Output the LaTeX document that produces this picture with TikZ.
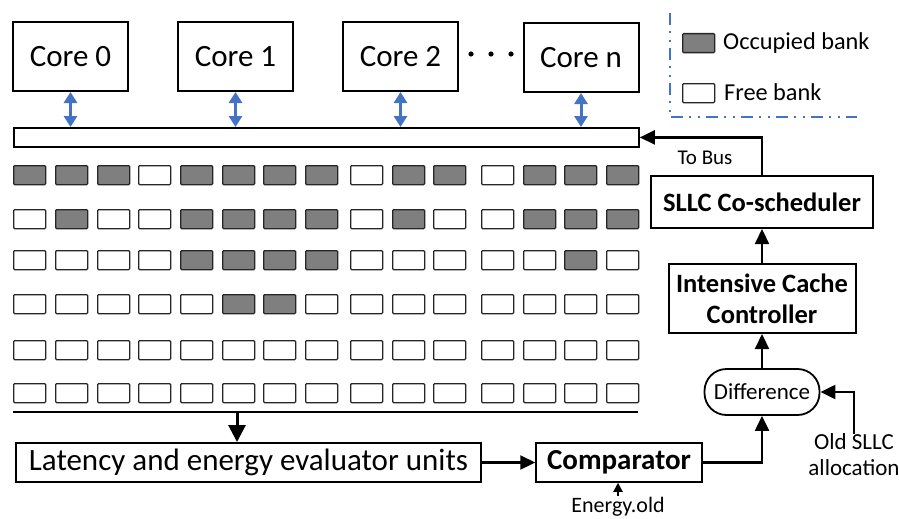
\documentclass[tikz,border=0pt]{standalone}
\usepackage{fontspec}
\setmainfont{Carlito}
\usetikzlibrary{arrows.meta}
\definecolor{occ}{HTML}{7F7F7F}
\definecolor{myblue}{HTML}{4472C4}
\tikzset{
  bank/.style={draw=black!85, line width=1.3pt, minimum width=32pt, minimum height=19pt, inner sep=0pt, rounded corners=1pt, anchor=north west},
  fill0/.style={fill=white},
  fill1/.style={fill=occ},
  corebox/.style={draw, line width=2pt, minimum width=115pt, minimum height=69pt, inner sep=0pt, font=\fontsize{31}{34}\selectfont},
  blockbox/.style={draw, line width=2pt, inner sep=0pt, align=center},
  barrow/.style={myblue, line width=3pt, {Triangle[length=11pt,width=13pt]}-{Triangle[length=11pt,width=13pt]}},
  arr/.style={line width=2.2pt, -{Triangle[length=15pt,width=14pt]}},
  legline/.style={myblue, line width=2pt, dash pattern=on 12pt off 6pt on 2pt off 7pt on 2pt off 6pt},
  lbl/.style={inner sep=0pt}
}
\begin{document}
\begin{tikzpicture}[x=1pt,y=-1pt]
\useasboundingbox (0,0) rectangle (899,519);

% cores
\node[corebox] (c0) at (70.5,56.5) {Core 0};
\node[corebox] (c1) at (235.5,56.5) {Core 1};
\node[corebox] (c2) at (400.5,56.5) {Core 2};
\node[corebox] (cn) at (581,57.5) {Core n};
\foreach \x in {471,491,511} \fill (\x,54) circle (2.6pt);

% bus
\node[draw, line width=1.8pt, minimum width=625pt, minimum height=19pt, inner sep=0pt, anchor=north west] (bus) at (13,127) {};
\foreach \c in {c0,c1,c2,cn} \draw[barrow] (\c.south) -- (\c.south |- bus.north);

% banks
\foreach \y/\pat [count=\r] in {
  165/{1,1,1,0,1,1,1,1,0,1,1,0,1,1,1},
  209/{0,1,0,0,1,1,1,1,0,1,0,0,1,1,1},
  250/{0,0,0,0,1,1,1,1,0,0,0,0,0,1,0},
  294/{0,0,0,0,0,1,1,0,0,0,0,0,0,0,0},
  340/{0,0,0,0,0,0,0,0,0,0,0,0,0,0,0},
  383/{0,0,0,0,0,0,0,0,0,0,0,0,0,0,0}} {
  \foreach \f [count=\c] in \pat {
    \pgfmathsetmacro\xx{{13,55,97,138,180,222,263,305,350,392,433,481,523,564,606}[\c-1]}
    \node[bank, fill\f] (b\r-\c) at (\xx,\y) {};
  }
}

% grid base line
\coordinate (gl) at (13,412);
\coordinate (gr) at (638,412);
\coordinate (gm) at (237,412);
\draw[line width=2pt] (gl) -- (gr);

% legend
\coordinate (lt) at (670,13);
\coordinate (lc) at (670,117);
\coordinate (lr) at (857,117);
\draw[legline] (lt) -- (lc) -- (lr);
\node[bank, fill1] (legocc) at (682,33) {};
\node[lbl, anchor=west, font=\fontsize{24.3}{27}\selectfont] (legocct) at (723,43) {Occupied bank};
\node[bank, fill0] (legfree) at (682,83) {};
\node[lbl, anchor=west, font=\fontsize{24.3}{27}\selectfont] (legfreet) at (724,92) {Free bank};

% right blocks
\node[blockbox, minimum width=222pt, minimum height=52pt, font=\bfseries\fontsize{26.5}{30}\selectfont] (sllc) at (762,202) {SLLC Co-scheduler};
\node[blockbox, minimum width=187pt, minimum height=69pt, font=\bfseries\fontsize{26.5}{31}\selectfont] (icc) at (762,298.5) {Intensive Cache\\Controller};
\node[draw, line width=1.8pt, minimum width=115pt, minimum height=46pt, inner sep=0pt, rounded corners=22pt, font=\fontsize{23}{26}\selectfont] (diff) at (762,392) {Difference};
\node[blockbox, line width=1.5pt, minimum width=166pt, minimum height=39pt, font=\bfseries\fontsize{29}{32}\selectfont] (comp) at (619,462.5) {Comparator};
\node[blockbox, minimum width=465pt, minimum height=39pt, font=\fontsize{31}{34}\selectfont] (lat) at (248.5,462.5) {Latency and energy evaluator units};

% labels
\node[lbl, font=\fontsize{21}{24}\selectfont] (tobus) at (705,158) {To Bus};
\node[lbl, font=\fontsize{22}{25}\selectfont] (eold) at (618,507) {Energy.old};
\node[lbl, align=center, font=\fontsize{23}{26}\selectfont] (old) at (854,455) {Old SLLC\\allocation};

% connectors
\draw[arr] (sllc.north) |- (bus.east);
\draw[arr] (icc.north) -- (sllc.south);
\draw[arr] (diff.north) -- (icc.south);
\draw[arr] (comp.east) -| (diff.south);
\draw[arr] (lat.east) -- (comp.west);
\draw[arr, line width=3pt, -{Triangle[length=17pt,width=17pt]}] (gm) -- (gm |- lat.north);
\draw[arr, line width=1.8pt, -{Triangle[length=9pt,width=9pt]}] (eold.north) ++(0,-1) -- (eold.north |- comp.south);
\draw[arr] (old.north) |- (diff.east);
\end{tikzpicture}
\end{document}
